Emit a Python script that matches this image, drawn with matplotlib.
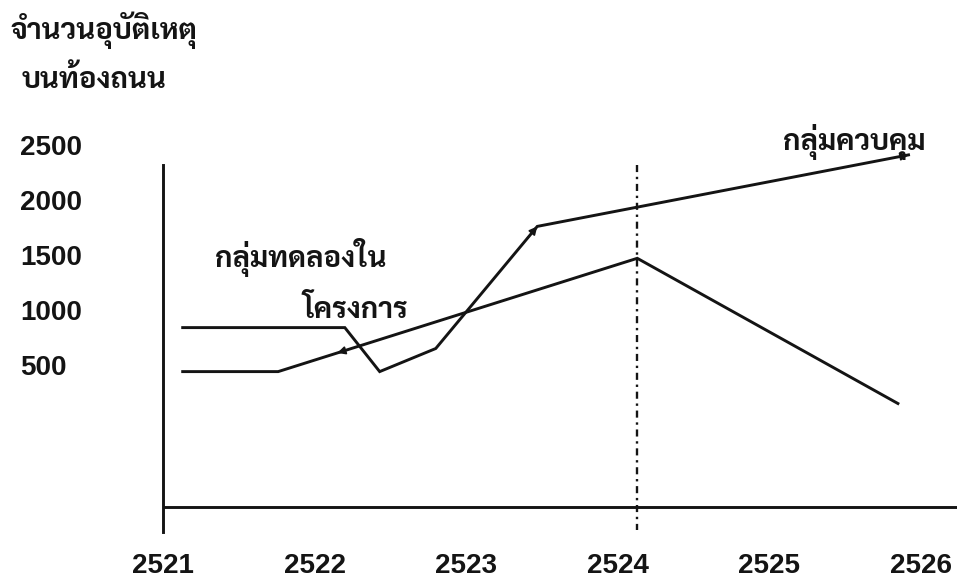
import matplotlib
matplotlib.use("Agg")
import matplotlib.pyplot as plt

# ---- data ----
years = [2521, 2522, 2523, 2524, 2525, 2526]
y_ticks = [500, 1000, 1500, 2000, 2500]

control_x = [2521.13, 2522.20, 2522.43, 2522.80, 2523.47, 2525.92]
control_y = [840, 840, 440, 650, 1760, 2410]
exp_x = [2521.13, 2521.76, 2524.13, 2525.85]
exp_y = [440, 440, 1470, 150]
project_start = 2524.13
arrow_on_exp = 2522.15

y_label_1 = "จำนวนอุบัติเหตุ"
y_label_2 = "บนท้องถนน"
control_label = "กลุ่มควบคุม"
exp_label_1 = "กลุ่มทดลองใน"
exp_label_2 = "โครงการ"

# ---- figure ----
W, H = 957, 588
fig = plt.figure(figsize=(W / 100, H / 100), dpi=100)
fig.patch.set_facecolor("white")
ax = fig.add_axes([163 / W, (H - 532) / H, (W - 163) / W, 532 / H])
ax.set_facecolor("none")
ax.set_xlim(2521.0, 2526.24)
ax.set_ylim(-1018, 3818)

ink = "#141414"
lw = 2.1
thai = ["Sarabun", "Noto Sans Thai Looped", "DejaVu Sans"]

for s in ["top", "right", "bottom"]:
    ax.spines[s].set_visible(False)
ax.spines["left"].set_bounds(-1018, 2318)
ax.spines["left"].set_linewidth(lw)
ax.spines["left"].set_color(ink)

# x base line
ax.axhline(-791, xmin=0, xmax=1, color=ink, lw=lw)
# project start marker
ax.plot([project_start, project_start], [2318, -1000], color=ink, lw=1.7,
        linestyle=(0, (3, 2, 1, 2)))

# series
ax.plot(control_x, control_y, color=ink, lw=lw, solid_joinstyle="miter")
ax.plot(exp_x, exp_y, color=ink, lw=lw, solid_joinstyle="miter")

# arrowheads
def head(x0, y0, x1, y1, frac=0.97):
    ax.annotate("", xy=(x1, y1),
                xytext=(x0 + (x1 - x0) * frac, y0 + (y1 - y0) * frac),
                arrowprops=dict(arrowstyle="-|>", color=ink, lw=1.2,
                                mutation_scale=12, shrinkA=0, shrinkB=0))

head(control_x[3], control_y[3], control_x[4], control_y[4], 0.9)
head(control_x[4], control_y[4], control_x[5], control_y[5], 0.97)
# small arrow on the experimental line pointing back (left)
t = (arrow_on_exp - exp_x[1]) / (exp_x[2] - exp_x[1])
ya = exp_y[1] + t * (exp_y[2] - exp_y[1])
head(exp_x[2], exp_y[2], arrow_on_exp, ya, 0.97)

# ticks
ax.set_xticks(years)
ax.set_xticklabels([str(v) for v in years],
                   fontfamily=["Liberation Sans", "DejaVu Sans"],
                   fontsize=20, fontweight="bold", color=ink)
ax.tick_params(axis="x", length=0, pad=15)
ax.set_yticks(y_ticks)
ax.set_yticklabels([str(v) for v in y_ticks],
                   fontfamily=["Liberation Sans", "DejaVu Sans"],
                   fontsize=20, fontweight="bold", color=ink, ha="left")
ax.tick_params(axis="y", length=0, pad=(163 - 20) * 0.72)

# texts
def ftxt(px, py, s, size=21):
    fig.text(px / W, 1 - py / H, s, fontfamily=thai, fontsize=size,
             fontweight="bold", color=ink, ha="left", va="center")

ftxt(10, 30, y_label_1)
ftxt(22, 80, y_label_2)
ftxt(215, 258, exp_label_1)
ftxt(302, 310, exp_label_2)
ftxt(783, 142, control_label)

fig.savefig("out.png", dpi=100, facecolor="white")
